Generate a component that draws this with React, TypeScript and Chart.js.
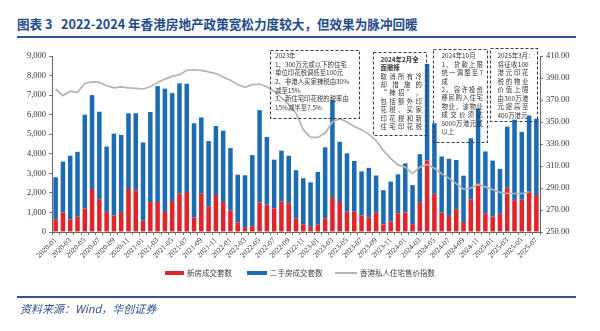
import React, { useEffect, useRef } from "react";
import { Chart, registerables } from "chart.js";
Chart.register(...registerables);

const categories = [
  "2020-01","2020-02","2020-03","2020-04","2020-05","2020-06","2020-07","2020-08","2020-09","2020-10","2020-11","2020-12",
  "2021-01","2021-02","2021-03","2021-04","2021-05","2021-06","2021-07","2021-08","2021-09","2021-10","2021-11","2021-12",
  "2022-01","2022-02","2022-03","2022-04","2022-05","2022-06","2022-07","2022-08","2022-09","2022-10","2022-11","2022-12",
  "2023-01","2023-02","2023-03","2023-04","2023-05","2023-06","2023-07","2023-08","2023-09","2023-10","2023-11","2023-12",
  "2024-01","2024-02","2024-03","2024-04","2024-05","2024-06","2024-07","2024-08","2024-09","2024-10","2024-11","2024-12",
  "2025-01","2025-02","2025-03","2025-04","2025-05","2025-06","2025-07",
];

// 新房成交套数
const newHomeSales = [
  650,1000,650,780,1200,2200,1680,1030,840,1020,2200,2120,
  580,1530,1530,1020,1580,1960,2050,740,1960,1300,1890,1530,
  1090,490,210,300,1510,1400,1210,1560,1470,680,400,260,
  370,700,1790,1540,1040,1040,840,750,1000,390,530,960,
  1000,400,1490,3650,1950,1000,820,1140,510,1670,2470,960,
  790,930,2260,1630,1650,2050,1890,
];

// 二手房成交套数
const secondHandSales = [
  2150,2600,3250,3320,4800,4800,4470,3340,4190,3940,3870,3950,
  4000,4610,5930,6310,5520,5640,5530,4820,3900,3350,3530,3650,
  3210,2440,2690,3630,4720,3460,2490,2600,2430,2480,2350,2280,
  2700,3630,4960,3070,2980,2590,2260,2530,1890,1750,2050,1990,
  2510,2000,2490,4950,3610,2860,2920,2540,2370,3120,3850,3160,
  2860,2300,3130,4110,3470,3910,3900,
];

// 香港私人住宅售价指数
const priceIndex: (number | null)[] = [
  380,374,378,377,385,386.5,386,383,381,382,381,380.5,
  380,382,386,389,391.5,393,397,397.5,397,395.5,394,391,
  388,384,381.5,384,384.5,382,378,372,366,358,343,336,
  336,340,350,353,350,346,343,339,333,324,317,311,
  309,303,309,311.5,308,303,299,294,289,290,293,291,
  288.5,286,285,285,285,286.5,null,
];

const leftAxisRange = [0, 9000, 1000];
const rightAxisRange = [250, 410, 20];

const seriesNames = ["新房成交套数", "二手房成交套数", "香港私人住宅售价指数"];
const titleText = "图表 3\u00a0\u00a0\u00a02022-2024 年香港房地产政策宽松力度较大，但效果为脉冲回暖";
const sourceText = "资料来源：Wind，华创证券";

type Line = { t: string; bold?: boolean; j?: boolean };
type Box = { rect: number[]; textX: number; textRight: number; firstY: number; lineH: number; lines: Line[] };

const annotationBoxes: Box[] = [
  {
    rect: [270, 50, 359, 118], textX: 275, textRight: 357, firstY: 55.7, lineH: 8.65,
    lines: [
      { t: "2023年" },
      { t: "1、300万元或以下的住宅" },
      { t: "单位印花税调低至100元" },
      { t: "2、非港人买家辣税由30%" },
      { t: "减至15%" },
      { t: "3、新住宅印花税的税率由" },
      { t: "15%减半至7.5%" },
    ],
  },
  {
    rect: [373, 51.7, 425.7, 135], textX: 380.5, textRight: 422, firstY: 59.3, lineH: 8.4,
    lines: [
      { t: "2024年2月全", bold: true },
      { t: "面撤辣", bold: true },
      { t: "取消所有冷", j: true },
      { t: "却措施的", j: true },
      { t: "“辣招”，", j: true },
      { t: "包括额外印", j: true },
      { t: "花税、买家", j: true },
      { t: "印花税和新", j: true },
      { t: "住宅印花税", j: true },
    ],
  },
  {
    rect: [433, 49, 487, 141.7], textX: 441.5, textRight: 483, firstY: 56, lineH: 8.4,
    lines: [
      { t: "2024年10月" },
      { t: "1、贷款上限", j: true },
      { t: "统一调整至7", j: true },
      { t: "成" },
      { t: "2、容许投资", j: true },
      { t: "移民购入住宅", j: true },
      { t: "物业，该物业", j: true },
      { t: "成交价须达", j: true },
      { t: "5000万港元或", j: true },
      { t: "以上" },
    ],
  },
  {
    rect: [490, 48.3, 536.7, 121.7], textX: 497.5, textRight: 528.5, firstY: 56, lineH: 8.45,
    lines: [
      { t: "2025年3月：", j: true },
      { t: "将征收100", j: true },
      { t: "港元印花", j: true },
      { t: "税的物业", j: true },
      { t: "价值上限", j: true },
      { t: "由300万港", j: true },
      { t: "元提高至", j: true },
      { t: "400万港元" },
    ],
  },
];

const CJK = '"Noto Sans CJK SC", "Noto Sans", sans-serif';

const annotationPlugin = {
  id: "annotBoxes",
  afterDraw(chart: any) {
    const ctx = chart.ctx as CanvasRenderingContext2D;
    ctx.save();
    for (const b of annotationBoxes) {
      const [x1, y1, x2, y2] = b.rect;
      ctx.setLineDash([3, 2]);
      ctx.lineWidth = 1.1;
      ctx.strokeStyle = "#3a3a3a";
      ctx.strokeRect(Math.round(x1) + 0.5, Math.round(y1) + 0.5, Math.round(x2 - x1), Math.round(y2 - y1));
      ctx.setLineDash([]);
      ctx.fillStyle = "#333";
      ctx.textBaseline = "middle";
      ctx.textAlign = "left";
      b.lines.forEach((ln, i) => {
        const y = b.firstY + i * b.lineH;
        ctx.font = `${ln.bold ? "bold " : ""}6.4px ${CJK}`;
        if (ln.j) {
          const toks = ln.t.match(/[A-Za-z0-9.%]+|[\s\S]/g) || [];
          const widths = toks.map((t) => ctx.measureText(t).width);
          const total = widths.reduce((a, c) => a + c, 0);
          const gap = toks.length > 1 ? Math.max(0, (b.textRight - b.textX - total) / (toks.length - 1)) : 0;
          let x = b.textX;
          toks.forEach((t, k) => {
            ctx.fillText(t, x, y);
            x += widths[k] + gap;
          });
        } else {
          ctx.fillText(ln.t, b.textX, y);
        }
      });
    }
    ctx.restore();
  },
};

const RED = "#e1232a";
const BLUE = "#1c6bb4";
const GREY = "#b3b3b3";

export default function App() {
  const ref = useRef<HTMLCanvasElement>(null);
  useEffect(() => {
    const tickFont = { family: '"Liberation Serif", serif', size: 8.5 };
    const chart = new Chart(ref.current!, {
      type: "bar",
      data: {
        labels: categories,
        datasets: [
          {
            type: "line",
            label: seriesNames[2],
            data: priceIndex,
            yAxisID: "y1",
            borderColor: GREY,
            borderWidth: 1.7,
            pointRadius: 0,
            tension: 0,
            order: 0,
          } as any,
          {
            label: seriesNames[0],
            data: newHomeSales,
            backgroundColor: RED,
            stack: "s",
            yAxisID: "y",
            barPercentage: 0.62,
            categoryPercentage: 1,
            order: 1,
          },
          {
            label: seriesNames[1],
            data: secondHandSales,
            backgroundColor: BLUE,
            stack: "s",
            yAxisID: "y",
            barPercentage: 0.62,
            categoryPercentage: 1,
            order: 1,
          },
        ],
      },
      options: {
        responsive: false,
        animation: false,
        devicePixelRatio: 1,
        layout: { padding: { top: 56, bottom: 64, left: 0, right: 0 } },
        plugins: { legend: { display: false }, tooltip: { enabled: false } },
        scales: {
          x: {
            stacked: true,
            grid: { drawOnChartArea: false, drawTicks: true, tickLength: 3, color: "#777" },
            border: { display: true, color: "#666", width: 1 },
            ticks: {
              autoSkip: false,
              maxRotation: 45,
              minRotation: 45,
              padding: 1,
              color: "#333",
              font: { family: '"Liberation Serif", serif', size: 7.5 },
              callback: (_v: any, i: number) => (i % 2 === 0 ? categories[i] : ""),
            },
            afterFit: (s: any) => { s.height = 35; },
          },
          y: {
            position: "left",
            stacked: true,
            min: leftAxisRange[0],
            max: leftAxisRange[1],
            grid: { drawOnChartArea: false, drawTicks: true, tickLength: 3, color: "#777" },
            border: { display: true, color: "#666", width: 1 },
            ticks: {
              stepSize: leftAxisRange[2],
              color: "#333",
              font: tickFont,
              padding: 3,
              callback: (v: any) => Number(v).toLocaleString("en-US"),
            },
            afterFit: (s: any) => { s.width = 52; },
          },
          y1: {
            position: "right",
            min: rightAxisRange[0],
            max: rightAxisRange[1],
            grid: { drawOnChartArea: false, drawTicks: true, tickLength: 3, color: "#777" },
            border: { display: true, color: "#666", width: 1 },
            ticks: {
              stepSize: rightAxisRange[2],
              color: "#333",
              font: tickFont,
              padding: 3,
              callback: (v: any) => Number(v).toFixed(2),
            },
            afterFit: (s: any) => { s.width = 60; },
          },
        },
      },
      plugins: [annotationPlugin],
    } as any);
    return () => chart.destroy();
  }, []);

  const legendText: React.CSSProperties = { position: "absolute", top: 267, fontSize: 7.5, lineHeight: "11px", color: "#444", fontFamily: CJK, whiteSpace: "nowrap" };

  return (
    <div style={{ position: "fixed", left: 0, top: 0, width: 600, height: 331, background: "#fff", overflow: "hidden", fontFamily: CJK }}>
      <div style={{ position: "absolute", left: 17, top: 16, fontSize: 12.6, lineHeight: "15px", fontWeight: 700, color: "#1f4a8a", whiteSpace: "nowrap" }}>
        {titleText}
      </div>
      <div style={{ position: "absolute", left: 17, top: 36, width: 559, height: 2, background: "#2f5597" }} />
      <canvas ref={ref} width={600} height={331} style={{ position: "absolute", left: 0, top: 0, width: 600, height: 331 }} />
      <div style={{ position: "absolute", left: 165, top: 271, width: 19, height: 4, background: RED }} />
      <div style={{ ...legendText, left: 187 }}>{seriesNames[0]}</div>
      <div style={{ position: "absolute", left: 247, top: 271, width: 20, height: 4, background: BLUE }} />
      <div style={{ ...legendText, left: 270 }}>{seriesNames[1]}</div>
      <div style={{ position: "absolute", left: 335, top: 272, width: 22, height: 1.5, background: GREY }} />
      <div style={{ ...legendText, left: 360 }}>{seriesNames[2]}</div>
      <div style={{ position: "absolute", left: 17, top: 296, width: 559, height: 2, background: "#2f5597" }} />
      <div style={{ position: "absolute", left: 20, top: 301, fontSize: 11, lineHeight: "14px", fontStyle: "italic", color: "#2f4f8f", whiteSpace: "nowrap" }}>
        {sourceText}
      </div>
    </div>
  );
}
